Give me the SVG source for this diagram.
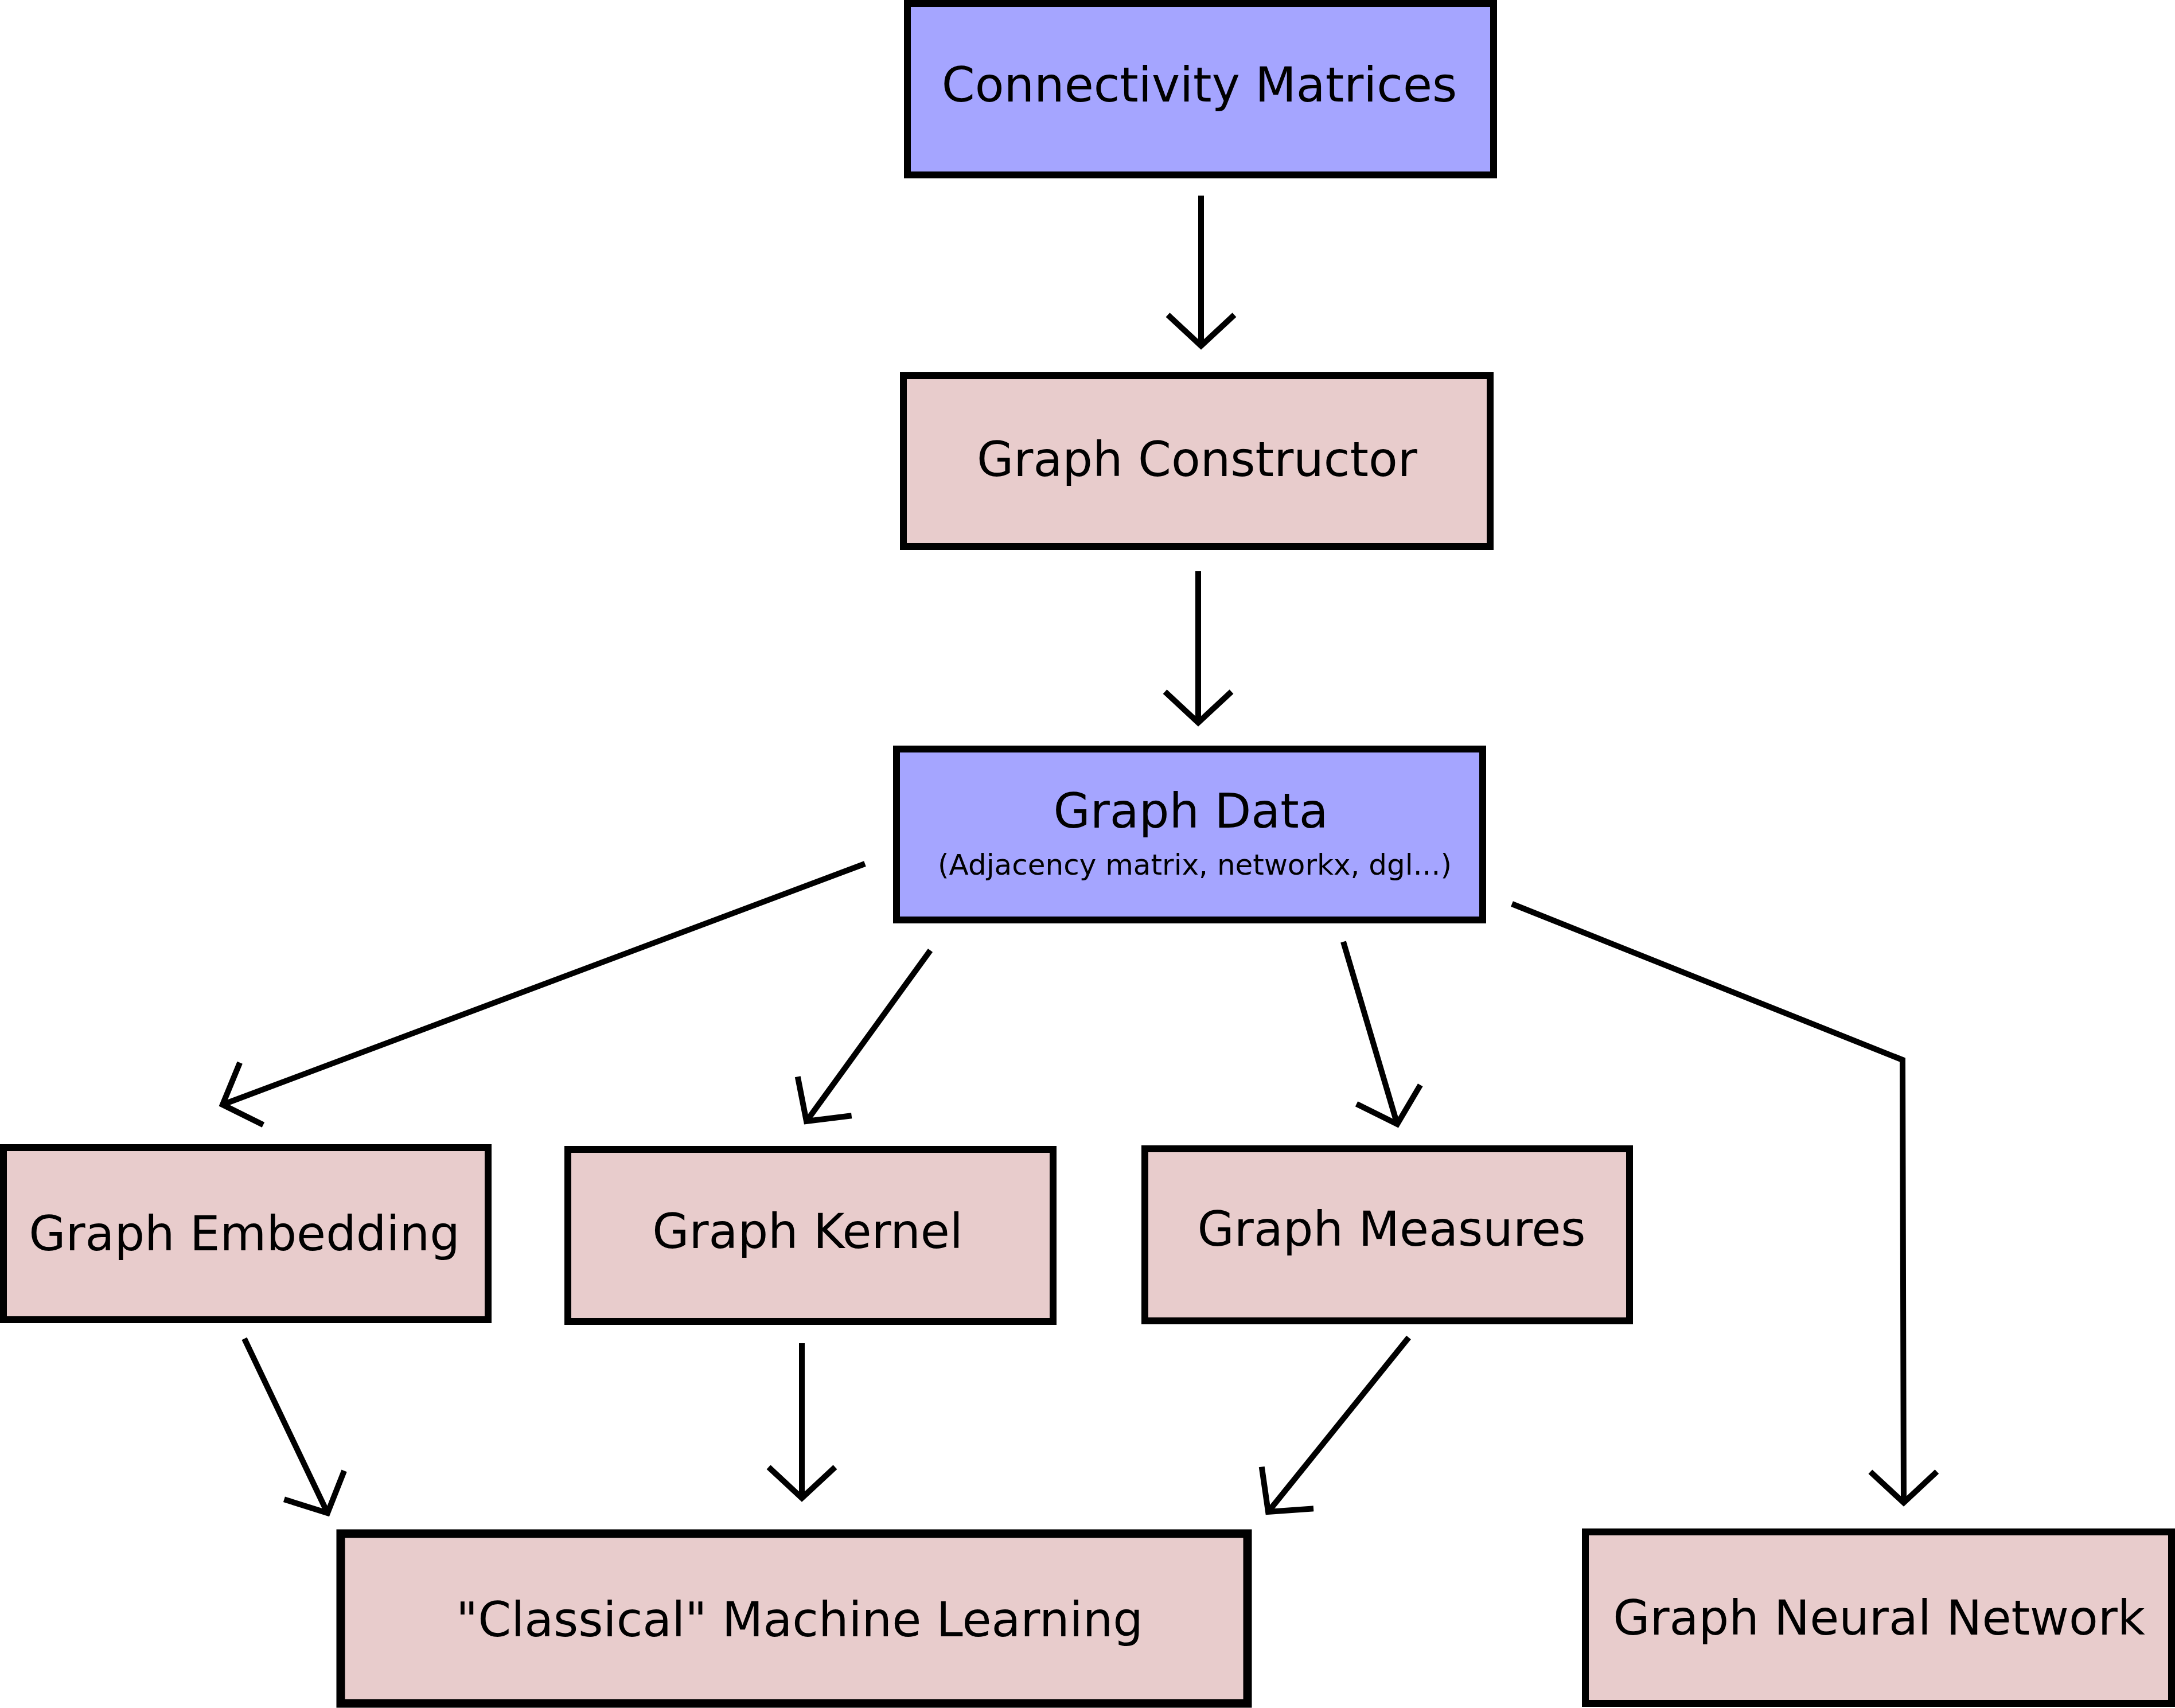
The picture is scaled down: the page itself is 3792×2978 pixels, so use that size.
<svg xmlns="http://www.w3.org/2000/svg" width="3792" height="2978" viewBox="0 0 3792 2978">
  <style>
    .box { stroke: #000; stroke-width: 12; }
    .blue { fill: #a5a5ff; }
    .pink { fill: #e8cccc; }
    .lbl { font-family: "DejaVu Sans", "Liberation Sans", sans-serif; font-size: 83px; fill: #000; text-anchor: middle; }
    .sub { font-size: 50px; }
    .edge { fill: none; stroke: #000; stroke-width: 10; marker-end: url(#arrow); }
  </style>
  <defs>
    <marker id="arrow" markerUnits="userSpaceOnUse" orient="auto" refX="0" refY="0" markerWidth="200" markerHeight="200" viewBox="-100 -100 200 200" overflow="visible">
      <path d="M-54,-58 L0,0 L-54,58" fill="none" stroke="#000" stroke-width="10" stroke-linejoin="miter"/>
    </marker>
  </defs>
  <rect width="3792" height="2978" fill="#fff"/>
  <g id="connectors">
    <line class="edge" x1="2094" y1="341" x2="2094" y2="603"/>
    <line class="edge" x1="2089" y1="996" x2="2089" y2="1260"/>
    <line class="edge" x1="1508" y1="1506" x2="388" y2="1926"/>
    <line class="edge" x1="1622" y1="1657" x2="1406" y2="1955"/>
    <line class="edge" x1="2342" y1="1642" x2="2436" y2="1960"/>
    <polyline class="edge" points="2636,1576 3317,1848 3319,2620"/>
    <line class="edge" x1="426" y1="2334" x2="571" y2="2638"/>
    <line class="edge" x1="1398" y1="2342" x2="1398" y2="2612"/>
    <line class="edge" x1="2456" y1="2332" x2="2211" y2="2636"/>
  </g>
  <g id="node-connectivity-matrices">
    <rect class="box blue" x="1582" y="6" width="1022" height="299"/>
    <text class="lbl" x="2091" y="177">Connectivity Matrices</text>
  </g>
  <g id="node-graph-constructor">
    <rect class="box pink" x="1575" y="655" width="1023" height="298"/>
    <text class="lbl" x="2087" y="830">Graph Constructor</text>
  </g>
  <g id="node-graph-data">
    <rect class="box blue" x="1563" y="1306" width="1022" height="298"/>
    <text class="lbl" x="2076" y="1443">Graph Data</text>
    <text class="lbl sub" x="2083" y="1525">(Adjacency matrix, networkx, dgl...)</text>
  </g>
  <g id="node-graph-embedding">
    <rect class="box pink" x="6" y="2001" width="845" height="300"/>
    <text class="lbl" x="426" y="2180">Graph Embedding</text>
  </g>
  <g id="node-graph-kernel">
    <rect class="box pink" x="990" y="2004" width="846" height="300"/>
    <text class="lbl" x="1408" y="2176">Graph Kernel</text>
  </g>
  <g id="node-graph-measures">
    <rect class="box pink" x="1996" y="2003" width="845" height="300"/>
    <text class="lbl" x="2426" y="2172">Graph Measures</text>
  </g>
  <g id="node-classical-ml">
    <rect class="box pink" x="594" y="2674" width="1581" height="296" style="stroke-width:15"/>
    <text class="lbl" x="1394" y="2853">"Classical" Machine Learning</text>
  </g>
  <g id="node-gnn">
    <rect class="box pink" x="2764" y="2671" width="1022" height="299"/>
    <text class="lbl" x="3276" y="2850">Graph Neural Network</text>
  </g>
</svg>
